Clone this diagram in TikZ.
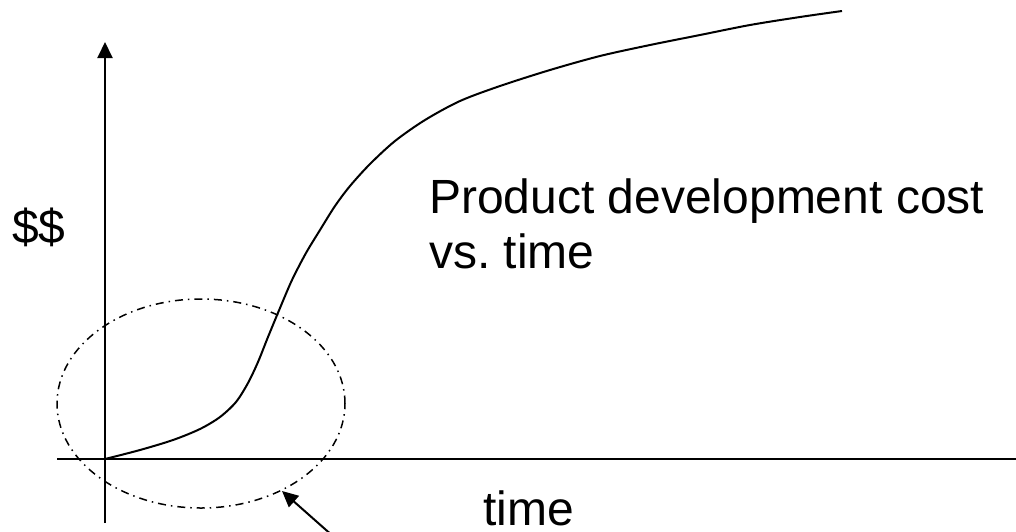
\documentclass[tikz,border=0pt]{standalone}
\usepackage{fontspec}
\setmainfont{Liberation Sans}
\usetikzlibrary{arrows.meta,shapes.geometric}
\frenchspacing
\begin{document}
\begin{tikzpicture}[x=1pt,y=-1pt,
  axis/.style={line width=2pt},
  tipbig/.style={-{Triangle[length=16pt,width=15pt]}},
  lbl/.style={inner sep=0pt,anchor=base west,font=\fontsize{48}{53}\selectfont},
  dashdot/.style={line width=1.5pt,dash pattern=on 8pt off 5pt on 1.5pt off 5pt}]
\useasboundingbox (0,0) rectangle (1016,531);
% axes
\coordinate (ybot) at (105,523);
\coordinate (ytop) at (105,42);
\coordinate (xl) at (57,459);
\coordinate (xr) at (1016,459);
\draw[axis,tipbig] (ybot) -- (ytop);
\draw[axis] (xl) -- (xr);
% curve
\draw[line width=2pt] plot[smooth,tension=0.5] coordinates {
 (105,459) (140,450) (173,440) (200,429) (220,417) (236,402) (248,383)
 (258,362) (268,337) (280,308) (292,280) (306,253) (320,230) (335,206)
 (350,186) (370,164) (395,141) (425,120) (460,101) (500,86) (550,70)
 (600,56) (650,45) (700,35) (750,25) (800,17) (842,11)};
% ellipse
\node[draw,dashdot,ellipse,minimum width=288pt,minimum height=209pt,inner sep=0pt] (ell) at (201,403.5) {};
% pointer arrow
\coordinate (ptrstart) at (334,537);
\coordinate (ptrtip) at (282,491);
\draw[axis,tipbig] (ptrstart) -- (ptrtip);
% labels
\node[lbl] (dollar) at (12,243) {\$\$};
\node[lbl] (title1) at (429,213) {Product development cost};
\node[lbl] (title2) at (429,268) {vs. time};
\node[lbl] (time) at (483,525) {time};
\end{tikzpicture}
\end{document}
